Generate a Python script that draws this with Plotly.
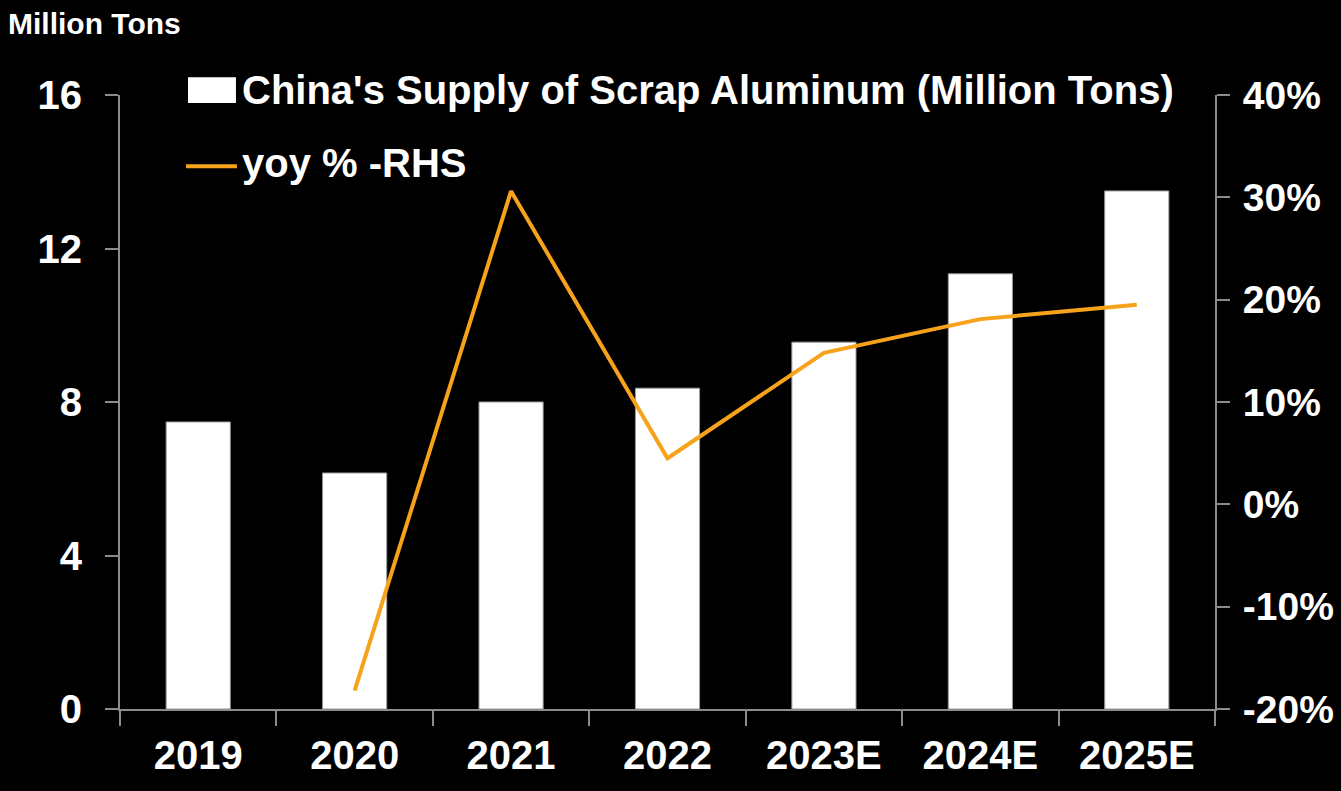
import plotly.graph_objects as go

categories = ["2019", "2020", "2021", "2022", "2023E", "2024E", "2025E"]
supply_mt = [7.48, 6.15, 8.00, 8.36, 9.56, 11.34, 13.50]
yoy_years = ["2020", "2021", "2022", "2023E", "2024E", "2025E"]
yoy_pct = [-0.182, 0.306, 0.045, 0.148, 0.181, 0.195]
left_ticks = [0, 4, 8, 12, 16]
right_tickvals = [-0.2, -0.1, 0.0, 0.1, 0.2, 0.3, 0.4]
right_ticktext = ["-20%", "-10%", "0%", "10%", "20%", "30%", "40%"]

bar_name = "China's Supply of Scrap Aluminum (Million Tons)"
line_name = "yoy % -RHS"

FONT = "Liberation Sans, Arial, sans-serif"
AXIS = "#8c8c8c"
ORANGE = "#F7A21B"

fig = go.Figure()
fig.add_trace(go.Bar(x=categories, y=supply_mt, name=bar_name,
                     marker=dict(color="white", line=dict(color="#9a9a9a", width=1)),
                     yaxis="y", showlegend=False))
fig.add_trace(go.Scatter(x=yoy_years, y=yoy_pct, name=line_name, mode="lines",
                         line=dict(color=ORANGE, width=4), yaxis="y2", showlegend=False))

tickfont = dict(family=FONT, size=40, color="white", weight="bold")

fig.update_layout(
    width=1341, height=791,
    paper_bgcolor="black", plot_bgcolor="black",
    margin=dict(l=120, r=126, t=95, b=82, autoexpand=False),
    bargap=0.59,
    xaxis=dict(type="category", showgrid=False, showline=True, linecolor=AXIS, linewidth=2,
               ticks="outside", tickson="boundaries", ticklen=15, tickcolor=AXIS, tickwidth=2,
               tickfont=tickfont, ticklabelstandoff=10, automargin=False),
    yaxis=dict(range=[0, 16], tickvals=left_ticks, showgrid=False, zeroline=False, showline=True,
               linecolor=AXIS, linewidth=2, ticks="outside", ticklen=13, tickcolor=AXIS,
               tickwidth=2, tickfont=tickfont, ticklabelstandoff=15, automargin=False),
    yaxis2=dict(range=[-0.2, 0.4], tickvals=right_tickvals, ticktext=right_ticktext,
                overlaying="y", side="right",
                showgrid=False, zeroline=False, showline=True, linecolor=AXIS, linewidth=2,
                ticks="outside", ticklen=13, tickcolor=AXIS, tickwidth=2,
                tickfont=dict(family=FONT, size=39, color="white", weight="bold"),
                ticklabelstandoff=5, automargin=False),
    showlegend=False,
)

# Legend drawn manually
fig.add_shape(type="rect", xref="paper", yref="paper", x0=0.0621, x1=0.1059, y0=0.987, y1=1.029,
              fillcolor="white", line=dict(width=0))
fig.add_shape(type="line", xref="paper", yref="paper", x0=0.0603, x1=0.1068, y0=0.884, y1=0.884,
              line=dict(color=ORANGE, width=4))
fig.add_annotation(text=bar_name, xref="paper", yref="paper", x=0.1096, y=1.008,
                   xanchor="left", yanchor="middle", showarrow=False,
                   font=dict(family=FONT, size=40, color="white", weight="bold"))
fig.add_annotation(text=line_name, xref="paper", yref="paper", x=0.1096, y=0.889,
                   xanchor="left", yanchor="middle", showarrow=False,
                   font=dict(family=FONT, size=40, color="white", weight="bold"))
fig.add_annotation(text="Million Tons", xref="paper", yref="paper",
                   x=-0.1041, y=1.147, xanchor="left", yanchor="top", showarrow=False,
                   font=dict(family=FONT, size=30, color="white", weight="bold"))

fig.write_html("out.html", config={"displayModeBar": False},
               post_script="document.body.style.margin='0';document.body.style.background='black';")
